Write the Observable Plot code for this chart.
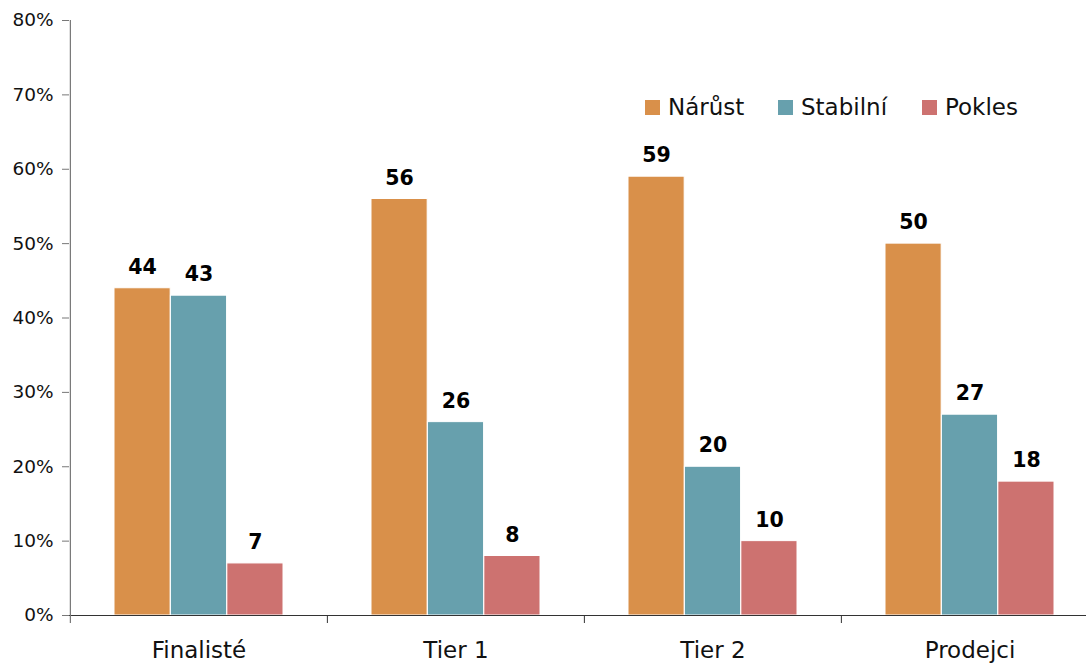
<!DOCTYPE html>
<html><head><meta charset="utf-8">
<script src="https://cdn.jsdelivr.net/npm/d3@7"></script>
<script src="https://cdn.jsdelivr.net/npm/@observablehq/plot@0.6"></script>
<style>
body{margin:0;background:#fff;font-family:"DejaVu Sans",sans-serif}
#wrap{position:relative;width:1086px;height:666px;overflow:hidden}
#legend{position:absolute;left:0;top:92px;width:1086px;height:30px;font-size:23px;color:#111;white-space:nowrap}
#legend .item{position:absolute;top:0;display:flex;align-items:center;height:30px}
#legend .sw{width:15px;height:15px;margin-right:8px}
</style></head><body>
<div id="wrap"><div id="chart"></div><div id="legend"></div></div>
<script>
const categories = ["Finalisté", "Tier 1", "Tier 2", "Prodejci"];
const seriesNames = ["Nárůst", "Stabilní", "Pokles"];
const narust = [44, 56, 59, 50];
const stabilni = [43, 26, 20, 27];
const pokles = [7, 8, 10, 18];
const seriesColors = ["#D9904A", "#67A0AD", "#CD7270"];
const yTicks = [0, 10, 20, 30, 40, 50, 60, 70, 80];

const seriesValues = [narust, stabilni, pokles];
const data = [];
seriesNames.forEach((s, i) => categories.forEach((c, j) => data.push({series: s, si: i, cat: c, value: seriesValues[i][j]})));

const W = 1086, H = 666, mL = 69, mT = 20, mB = 51;
const xRange = [69, 1098];
const bw = (xRange[1] - xRange[0]) / categories.length;
const outer = 44;
const barW = (bw - 2 * outer) / 3;

const marks = [];
seriesNames.forEach((s, i) => {
  const d = data.filter(r => r.si === i);
  marks.push(Plot.barY(d, {x: "cat", y: "value", fill: seriesColors[i], stroke: "white", strokeWidth: 1,
    insetLeft: outer + i * barW, insetRight: bw - outer - (i + 1) * barW}));
  marks.push(Plot.text(d, {x: "cat", y: "value", text: r => String(r.value), dx: outer + (i + 0.5) * barW - bw / 2, dy: -21,
    fontWeight: "bold", fontSize: 20.5, fill: "#000"}));
});
marks.push(Plot.ruleY([0], {stroke: "#333", strokeWidth: 1.2}));
marks.push(Plot.ruleX([categories[0]], {dx: -bw / 2, y1: 80, y2: 0, insetBottom: -8, stroke: "#777", strokeWidth: 1.2}));
marks.push(Plot.axisY({ticks: yTicks, tickFormat: d => d + "%", tickSize: 7, tickPadding: 9, fontSize: 18.5, stroke: "#777", color: "#111", label: null}));
marks.push(Plot.axisX({tickSize: 0, tickPadding: 26, fontSize: 23, color: "#111", label: null}));
marks.push(Plot.axisX({ticks: categories.slice(1), tickSize: 8, tickFormat: () => "", dx: -bw / 2, stroke: "#333", label: null}));

const chart = Plot.plot({
  width: W, height: H,
  marginLeft: mL, marginTop: mT, marginBottom: mB, marginRight: 0,
  style: {fontFamily: "DejaVu Sans", background: "white", overflow: "visible"},
  x: {domain: categories, range: xRange, padding: 0},
  y: {domain: [0, 80], range: [H - mB, mT]},
  marks
});
document.getElementById("chart").appendChild(chart);

const legend = document.getElementById("legend");
const lefts = [645, 778, 922];
seriesNames.forEach((s, i) => {
  const it = document.createElement("div");
  it.className = "item";
  it.style.left = lefts[i] + "px";
  it.innerHTML = `<span class="sw" style="background:${seriesColors[i]}"></span><span>${s}</span>`;
  legend.appendChild(it);
});
</script>
</body></html>
